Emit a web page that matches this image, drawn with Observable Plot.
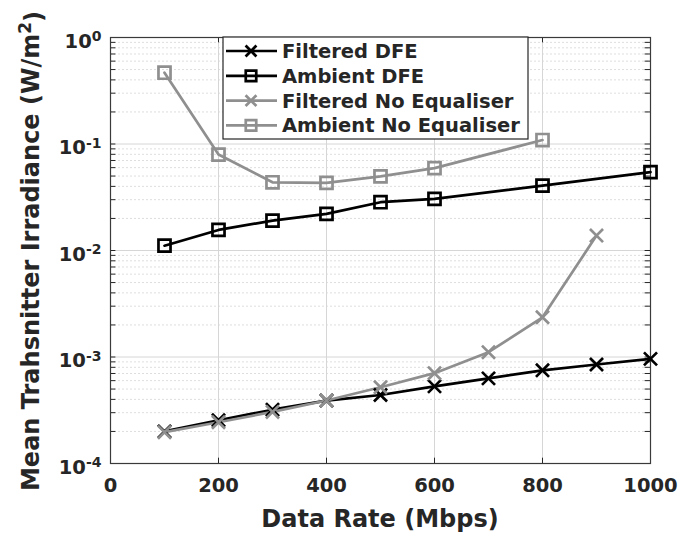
<!DOCTYPE html>
<html>
<head>
<meta charset="utf-8">
<script src="https://cdn.jsdelivr.net/npm/d3@7"></script>
<script src="https://cdn.jsdelivr.net/npm/@observablehq/plot@0.6"></script>
<style>
  body { margin: 0; background: #fff; }
  #chart { width: 681px; height: 533px; }
</style>
</head>
<body>
<div id="chart"></div>
<script>
// Mean transmitter irradiance needed at each data rate, per receiver configuration
const filteredDFERates = [100, 200, 300, 400, 500, 600, 700, 800, 900, 1000];
const filteredDFE = [2.0e-4, 2.55e-4, 3.2e-4, 3.9e-4, 4.4e-4, 5.3e-4, 6.3e-4, 7.5e-4, 8.5e-4, 9.6e-4];

const ambientDFERates = [100, 200, 300, 400, 500, 600, 800, 1000];
const ambientDFE = [0.0111, 0.0156, 0.0191, 0.0221, 0.0284, 0.0305, 0.0407, 0.0545];

const filteredNoEqRates = [100, 200, 300, 400, 500, 600, 700, 800, 900];
const filteredNoEq = [1.97e-4, 2.44e-4, 3.05e-4, 3.9e-4, 5.2e-4, 7.05e-4, 1.11e-3, 2.36e-3, 1.38e-2];

const ambientNoEqRates = [100, 200, 300, 400, 500, 600, 800];
const ambientNoEq = [0.467, 0.0796, 0.0437, 0.0432, 0.0496, 0.0593, 0.109];

const seriesNames = ["Filtered DFE", "Ambient DFE", "Filtered No Equaliser", "Ambient No Equaliser"];
const seriesColors = ["#000000", "#000000", "#8f8f8f", "#8f8f8f"];
const seriesSymbols = ["times", "square", "times", "square"];

const xTicks = [0, 200, 400, 600, 800, 1000];
const yTicks = [1e-4, 1e-3, 1e-2, 1e-1, 1];

// Minor log ticks (2..9 within each decade)
const yMinor = [];
for (let k = -4; k < 0; k++) for (let m = 2; m <= 9; m++) yMinor.push(m * Math.pow(10, k));

const series = [
  [filteredDFERates, filteredDFE],
  [ambientDFERates, ambientDFE],
  [filteredNoEqRates, filteredNoEq],
  [ambientNoEqRates, ambientNoEq]
];
const rows = series.flatMap(([xs, ys], i) =>
  xs.map((x, j) => ({series: seriesNames[i], rate: x, value: ys[j]}))
);

const ink = "#262626";
const lineW = 2.7;
const tickLenX = 10;                    // data units (~5px)
const tickFactorY = Math.pow(10, 0.05); // ~5px in log space

const lineMarks = seriesNames.map((name, i) =>
  Plot.line(rows.filter(d => d.series === name), {x: "rate", y: "value", stroke: seriesColors[i], strokeWidth: lineW})
);
const dotMarks = seriesNames.map((name, i) =>
  Plot.dot(rows.filter(d => d.series === name), {
    x: "rate", y: "value", stroke: seriesColors[i], fill: "none", strokeWidth: lineW,
    symbol: seriesSymbols[i], r: seriesSymbols[i] === "square" ? 6.8 : 6
  })
);

const chart = Plot.plot({
  width: 681,
  height: 533,
  marginLeft: 110,
  marginRight: 31,
  marginTop: 37,
  marginBottom: 70,
  style: {fontFamily: "'DejaVu Sans', sans-serif", fontWeight: "bold", fontSize: "19.5px", color: ink, background: "#fff", overflow: "visible"},
  x: {domain: [0, 1000]},
  y: {type: "log", domain: [1e-4, 1]},
  marks: [
    // grid
    Plot.ruleY(yMinor, {stroke: "#dedede", strokeDasharray: "2,2", strokeWidth: 1}),
    Plot.ruleY(yTicks, {stroke: "#d6d6d6", strokeWidth: 1}),
    Plot.ruleX(xTicks.slice(1, -1), {stroke: "#d6d6d6", strokeWidth: 1}),
    // inward ticks on all four sides
    Plot.ruleY(yTicks.concat(yMinor), {x1: 0, x2: tickLenX, stroke: ink, strokeWidth: 1}),
    Plot.ruleY(yTicks.concat(yMinor), {x1: 1000 - tickLenX, x2: 1000, stroke: ink, strokeWidth: 1}),
    Plot.ruleX(xTicks, {y1: 1e-4, y2: 1e-4 * tickFactorY, stroke: ink, strokeWidth: 1}),
    Plot.ruleX(xTicks, {y1: 1, y2: 1 / tickFactorY, stroke: ink, strokeWidth: 1}),
    Plot.frame({stroke: "#3a3a3a", strokeWidth: 1.2}),
    ...lineMarks,
    ...dotMarks,
    Plot.axisX(xTicks, {tickSize: 0, tickPadding: 15, label: null, tickFormat: d => String(d), fill: ink}),
    Plot.axisY(yTicks, {tickSize: 0, tickPadding: 9, label: null, dy: 4, tickFormat: d => String(Math.round(Math.log10(d))), fill: ink})
  ]
});

document.getElementById("chart").appendChild(chart);
const svg = d3.select(chart);

// Render y tick labels as powers of ten
svg.selectAll("g[aria-label='y-axis tick label'] text").each(function () {
  const t = d3.select(this);
  const exp = t.text();
  t.text("10");
  t.append("tspan").attr("dy", "-0.45em").attr("font-size", "14px").text(exp);
});

// Axis titles
svg.append("text")
  .attr("x", 380).attr("y", 527)
  .attr("text-anchor", "middle")
  .attr("font-size", 24).attr("font-weight", "bold").attr("fill", ink)
  .text("Data Rate (Mbps)");

const yl = svg.append("text")
  .attr("transform", "translate(39,251) rotate(-90)")
  .attr("text-anchor", "middle")
  .attr("font-size", 24).attr("font-weight", "bold").attr("fill", ink);
yl.append("tspan").text("Mean Trahsnitter Irradiance (W/m");
yl.append("tspan").attr("dy", "-0.45em").attr("font-size", 17).text("2");
yl.append("tspan").attr("dy", "0.45em").text(")");

// Legend
const lg = svg.append("g").attr("font-size", 19.5).attr("font-weight", "bold").attr("text-anchor", "start");
lg.append("rect")
  .attr("x", 223).attr("y", 37).attr("width", 305).attr("height", 102)
  .attr("fill", "#fff").attr("stroke", ink).attr("stroke-width", 1.2);
seriesNames.forEach((name, i) => {
  const cy = 51 + i * 24.8;
  const g = lg.append("g");
  g.append("line").attr("x1", 226).attr("x2", 277).attr("y1", cy).attr("y2", cy)
    .attr("stroke", seriesColors[i]).attr("stroke-width", lineW);
  const isSq = seriesSymbols[i] === "square";
  const sym = d3.symbol(isSq ? d3.symbolSquare : d3.symbolTimes, isSq ? 110 : Math.PI * 5 * 5);
  g.append("path").attr("d", sym()).attr("transform", `translate(251,${cy})`)
    .attr("fill", "none").attr("stroke", seriesColors[i]).attr("stroke-width", lineW);
  g.append("text").attr("x", 282).attr("y", cy).attr("dy", "0.36em").attr("fill", ink).text(name);
});
</script>
</body>
</html>
